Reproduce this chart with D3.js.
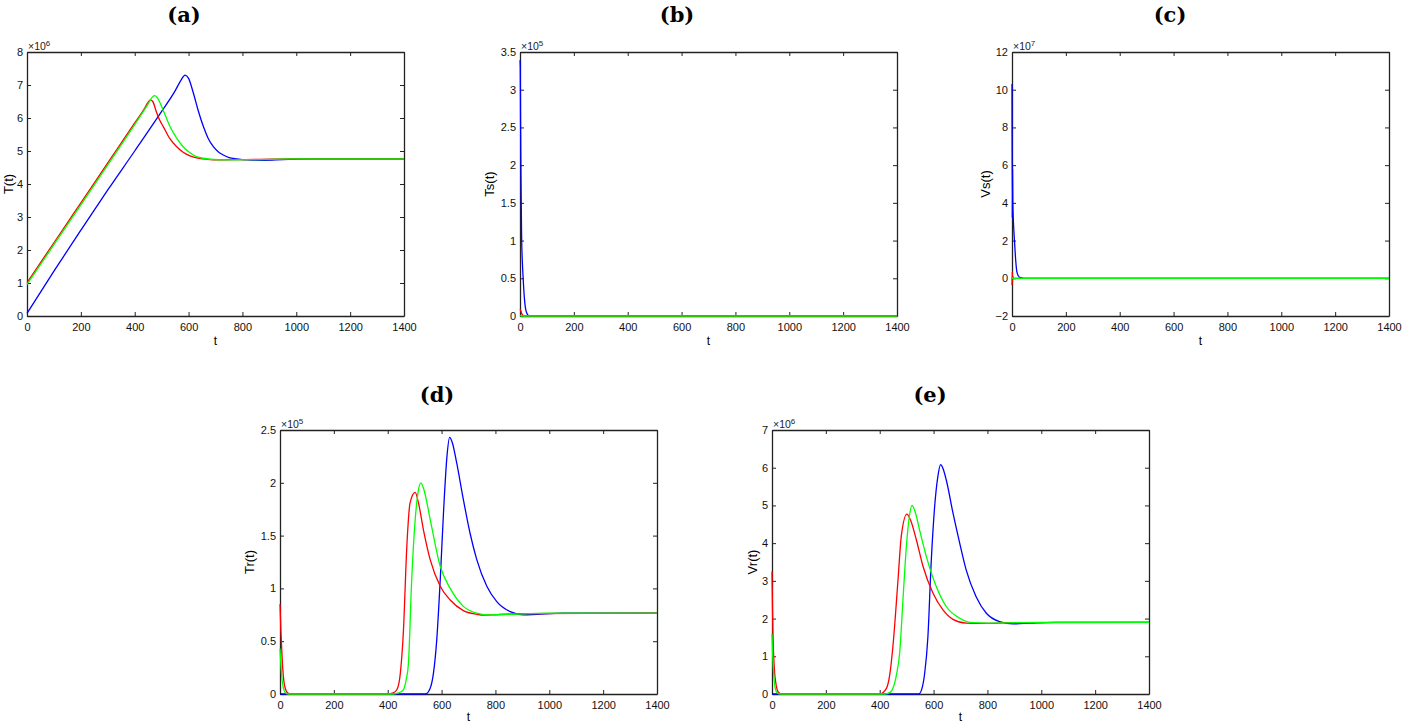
<!DOCTYPE html>
<html><head><meta charset="utf-8">
<script src="https://cdn.jsdelivr.net/npm/d3@7"></script>
<style>body{margin:0;background:#fff;}svg{display:block;}</style>
</head><body>
<svg id="fig" width="1402" height="723"></svg>
<script>
// ---------- DATA (values in units of the axis multiplier) ----------
const xTicks = [0,200,400,600,800,1000,1200,1400];
const panelTitles = ["(a)","(b)","(c)","(d)","(e)"];
const yLabels = ["T(t)","Ts(t)","Vs(t)","Tr(t)","Vr(t)"];
const yExponents = ["6","5","7","5","6"];
const yTicksA = [0,1,2,3,4,5,6,7,8];
const yTicksB = [0,0.5,1,1.5,2,2.5,3,3.5];
const yTicksC = [-2,0,2,4,6,8,10,12];
const yTicksD = [0,0.5,1,1.5,2,2.5];
const yTicksE = [0,1,2,3,4,5,6,7];

// (a) T(t) x10^6
const aBlue  = [[0,0.08],[100,1.36],[200,2.6],[300,3.82],[400,5.0],[500,6.2],[550,6.82],[572,7.15],[587,7.3],[600,7.2],[618,6.75],[636,6.22],[655,5.74],[673,5.38],[692,5.13],[710,4.98],[729,4.88],[750,4.8],[779,4.76],[820,4.73],[880,4.72],[950,4.74],[1050,4.76],[1400,4.76]];
const aRed   = [[0,1.01],[100,2.22],[200,3.43],[300,4.64],[400,5.85],[435,6.27],[450,6.48],[458,6.55],[467,6.5],[480,6.2],[493,5.93],[506,5.74],[530,5.38],[556,5.13],[580,4.96],[605,4.85],[630,4.79],[655,4.76],[700,4.73],[800,4.74],[1000,4.76],[1400,4.76]];
const aGreen = [[0,0.96],[100,2.16],[200,3.37],[300,4.58],[400,5.8],[450,6.43],[466,6.64],[475,6.68],[485,6.6],[500,6.35],[515,6.05],[531,5.74],[555,5.4],[580,5.13],[605,4.95],[630,4.83],[655,4.78],[680,4.75],[740,4.73],[850,4.74],[1000,4.76],[1400,4.76]];

// (b) Ts(t) x10^5
const bBlue  = [[0,3.39],[1,3.3],[2,2.6],[4,1.7],[6,1.05],[9,0.7],[12,0.48],[16,0.25],[20,0.11],[25,0.04],[32,0.005],[40,0],[1400,0]];
const bRed   = [[0,0.09],[3,0.07],[6,0.035],[10,0.012],[15,0],[1400,0]];
const bGreen = [[0,0.01],[5,0],[1400,0]];

// (c) Vs(t) x10^7
const cBlue  = [[0,10.3],[1,3.2],[2,5.8],[3,4.2],[5,3.1],[7,2.5],[10,1.8],[14,0.9],[18,0.35],[24,0.12],[32,0.03],[45,0],[1400,0]];
const cRed   = [[0,-0.35],[1,0.35],[2,-0.2],[3,0.1],[5,0],[1400,0]];
const cGreen = [[0,0.05],[3,0],[1400,0]];

// (d) Tr(t) x10^5
const dBlue  = [[0,0],[540,0],[557,0.05],[570,0.2],[582,0.51],[595,1.08],[607,1.71],[620,2.25],[630,2.43],[640,2.38],[656,2.19],[681,1.84],[706,1.52],[731,1.27],[768,1.02],[805,0.875],[855,0.78],[904,0.75],[954,0.755],[1050,0.765],[1400,0.765]];
const dRed   = [[0,0.85],[3,0.62],[6,0.45],[10,0.25],[15,0.11],[20,0.05],[28,0.012],[38,0],[400,0],[420,0.01],[434,0.04],[447,0.2],[458,0.58],[471,1.4],[483,1.81],[502,1.91],[515,1.8],[533,1.55],[558,1.27],[595,1.02],[632,0.89],[681,0.79],[731,0.755],[756,0.746],[800,0.75],[900,0.762],[1400,0.765]];
const dGreen = [[0,0.43],[4,0.25],[8,0.13],[13,0.05],[20,0.012],[30,0],[420,0],[440,0.01],[458,0.04],[469,0.14],[477,0.29],[489,1.08],[502,1.65],[512,1.9],[523,2.0],[535,1.93],[558,1.65],[595,1.21],[632,1.0],[681,0.83],[731,0.765],[768,0.75],[850,0.755],[1000,0.765],[1400,0.765]];

// (e) Vr(t) x10^6
const eBlue  = [[0,0],[545,0],[557,0.15],[567,0.55],[579,1.52],[591,3.47],[604,4.97],[616,5.77],[626,6.08],[635,5.98],[647,5.68],[672,4.8],[697,4.0],[721,3.29],[758,2.58],[796,2.14],[845,1.92],[896,1.86],[960,1.88],[1050,1.9],[1400,1.9]];
const eRed   = [[0,3.25],[2,2.2],[4,1.45],[7,0.9],[10,0.55],[14,0.3],[19,0.12],[25,0.04],[35,0],[400,0],[425,0.15],[437,0.5],[449,1.26],[468,3.03],[480,4.18],[501,4.77],[515,4.6],[536,4.09],[561,3.38],[598,2.67],[635,2.23],[672,1.98],[721,1.88],[780,1.87],[900,1.89],[1400,1.9]];
const eGreen = [[0,1.6],[3,0.95],[6,0.55],[10,0.25],[15,0.08],[22,0.015],[30,0],[420,0],[440,0.05],[449,0.15],[462,0.5],[474,1.08],[487,2.58],[499,3.91],[510,4.7],[520,5.0],[532,4.82],[548,4.35],[573,3.65],[610,2.85],[647,2.32],[697,2.01],[746,1.89],[800,1.88],[1000,1.9],[1400,1.9]];

// ---------- LAYOUT ----------
const panels = [
  {title:panelTitles[0], ylab:yLabels[0], exp:yExponents[0], yTicks:yTicksA, ydom:[0,8],  series:[aBlue,aRed,aGreen], box:[27,404,52,316],   tx:184,  ty:22,  ylx:13,  xly:345},
  {title:panelTitles[1], ylab:yLabels[1], exp:yExponents[1], yTicks:yTicksB, ydom:[0,3.5],series:[bBlue,bRed,bGreen], box:[520,897,52,316],  tx:677,  ty:22,  ylx:494, xly:345},
  {title:panelTitles[2], ylab:yLabels[2], exp:yExponents[2], yTicks:yTicksC, ydom:[-2,12],series:[cBlue,cRed,cGreen], box:[1012,1389,52,316],tx:1170, ty:22,  ylx:990, xly:345},
  {title:panelTitles[3], ylab:yLabels[3], exp:yExponents[3], yTicks:yTicksD, ydom:[0,2.5],series:[dBlue,dRed,dGreen], box:[280,657,430,694], tx:437,  ty:402, ylx:254, xly:721},
  {title:panelTitles[4], ylab:yLabels[4], exp:yExponents[4], yTicks:yTicksE, ydom:[0,7],  series:[eBlue,eRed,eGreen], box:[772,1149,430,694],tx:930,  ty:402, ylx:757, xly:721}
];
const colors = ["#0000ff","#ff0000","#00ff00"];
const tickFont = "'Liberation Sans', Arial, Helvetica, sans-serif";

const svg = d3.select("#fig");

panels.forEach((p,pi) => {
  const [L,R,T,B] = p.box;
  const x = d3.scaleLinear().domain([0,1400]).range([L,R]);
  const y = d3.scaleLinear().domain(p.ydom).range([B,T]);
  const g = svg.append("g");

  const cid = "clip"+pi;
  svg.append("clipPath").attr("id",cid).append("rect")
     .attr("x",L-1.5).attr("y",T-1).attr("width",R-L+3).attr("height",B-T+2);

  // axes (inward ticks on all four sides)
  const bottom = d3.axisBottom(x).tickValues(xTicks).tickSizeInner(-4).tickSizeOuter(0).tickPadding(7).tickFormat(d3.format(""));
  const top = d3.axisTop(x).tickValues(xTicks).tickSizeInner(-4).tickSizeOuter(0).tickFormat("");
  const left = d3.axisLeft(y).tickValues(p.yTicks).tickSizeInner(-4).tickSizeOuter(0).tickPadding(4).tickFormat(d3.format(""));
  const right = d3.axisRight(y).tickValues(p.yTicks).tickSizeInner(-4).tickSizeOuter(0).tickFormat("");
  [[bottom,`translate(0,${B})`],[top,`translate(0,${T})`],[left,`translate(${L},0)`],[right,`translate(${R},0)`]].forEach(([ax,tr])=>{
    const a = g.append("g").attr("transform",tr).call(ax);
    a.selectAll("path.domain").attr("stroke","#222").attr("stroke-width",1.3);
    a.selectAll("line").attr("stroke","#222").attr("stroke-width",1);
    a.selectAll("text").attr("font-family",tickFont).attr("font-size",11).attr("fill","#111");
  });

  // lines (drawn over the axes)
  const line = d3.line().x(d=>x(d[0])).y(d=>y(d[1])).curve(d3.curveMonotoneX);
  const lg = g.append("g").attr("clip-path",`url(#${cid})`);
  p.series.forEach((s,i) => {
    lg.append("path").datum(s).attr("d",line)
      .attr("fill","none").attr("stroke",colors[i]).attr("stroke-width",1.3)
      .attr("stroke-linejoin","round");
  });

  // exponent label
  const ex = g.append("text").attr("x",L+1).attr("y",T-2)
     .attr("font-family",tickFont).attr("font-size",10.5).attr("fill","#222");
  ex.append("tspan").text("\u00d710");
  ex.append("tspan").attr("dy",-4).attr("font-size",8).text(p.exp);

  // x label
  g.append("text").attr("x",(L+R)/2).attr("y",p.xly).attr("text-anchor","middle")
     .attr("font-family",tickFont).attr("font-size",12).text("t");
  // y label
  g.append("text").attr("transform",`translate(${p.ylx},${(T+B)/2}) rotate(-90)`)
     .attr("text-anchor","middle").attr("font-family",tickFont).attr("font-size",13).text(p.ylab);
  // title
  g.append("text").attr("x",p.tx).attr("y",p.ty).attr("text-anchor","middle")
     .attr("font-family","'DejaVu Serif','Liberation Serif',serif").attr("font-weight","bold")
     .attr("font-size",21).text(p.title);
});
</script>
</body></html>
